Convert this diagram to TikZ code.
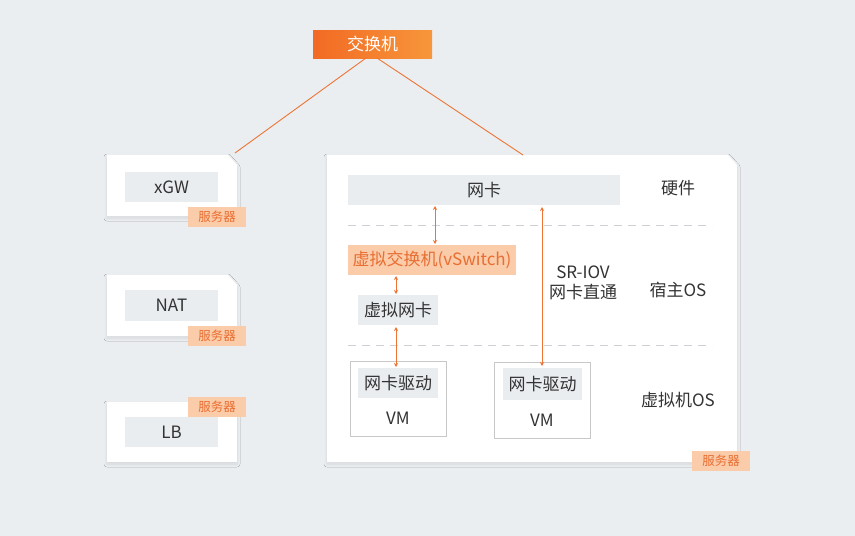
\documentclass[tikz,border=0pt]{standalone}
\usepackage{fontspec}
\setmainfont{Noto Sans CJK SC}
\usetikzlibrary{arrows.meta,shadows.blur}
\definecolor{bgcol}{RGB}{235,238,241}
\definecolor{innercol}{RGB}{234,237,240}
\definecolor{orA}{RGB}{242,106,36}
\definecolor{orB}{RGB}{247,150,58}
\definecolor{tagfill}{RGB}{251,204,170}
\definecolor{tagtext}{RGB}{232,110,50}
\definecolor{lnorange}{RGB}{238,116,54}
\definecolor{txtcol}{RGB}{51,51,51}
\definecolor{vmline}{RGB}{200,200,200}
\definecolor{dashcol}{RGB}{205,208,212}
\tikzset{
  card/.style={fill=white,blur shadow={shadow xshift=0pt,shadow yshift=-2pt,shadow blur radius=3pt,shadow blur steps=6,shadow opacity=10}},
  greybox/.style={fill=innercol,text=txtcol,inner sep=0pt,font=\fontsize{17}{19}\selectfont},
  tag/.style={fill=tagfill,text=tagtext,inner sep=0pt,minimum width=58pt,minimum height=20pt,font=\fontsize{12.5}{14}\selectfont},
  lbl/.style={text=txtcol,inner sep=0pt,font=\fontsize{17}{19}\selectfont,align=center},
  conn/.style={draw=lnorange,line width=0.9pt},
  dbl/.style={draw=lnorange,line width=1pt,{Stealth[length=4pt,width=4pt]}-{Stealth[length=4pt,width=4pt]}},
  sep/.style={draw=dashcol,line width=1pt,dash pattern=on 8pt off 6pt},
}
\begin{document}
\begin{tikzpicture}[x=1pt,y=-1pt]
\fill[bgcol] (0,0) rectangle (855,536);
\useasboundingbox (0,0) rectangle (855,536);

% switch
\node[left color=orA,right color=orB,text=white,inner sep=0pt,minimum width=119pt,minimum height=28pt,font=\fontsize{17}{19}\selectfont] (sw) at (372.5,44) {交换机};

% small server cards
\path[card] (107,155) -- (228,155) -- (237,165) -- (237,216) -- (107,216) -- cycle;
\coordinate (xgwc) at (235,153);
\node[greybox,minimum width=93pt,minimum height=30pt] (xgw) at (171.5,187) {xGW};
\node[tag] (t1) at (217,217) {服务器};

\path[card] (107,275) -- (228,275) -- (237,285) -- (237,336) -- (107,336) -- cycle;
\node[greybox,minimum width=93pt,minimum height=31pt] (nat) at (171.5,305.5) {NAT};
\node[tag] (t2) at (217,336) {服务器};

\path[card] (107,402) rectangle (237,462);
\node[greybox,minimum width=93pt,minimum height=30pt] (lb) at (171.5,432) {LB};
\node[tag] (t3) at (217,407) {服务器};

% big server card
\path[card] (327,155) -- (728,155) -- (737,165) -- (737,462) -- (327,462) -- cycle;
\coordinate (bigc) at (523,155);
\node[tag] (t4) at (721,461) {服务器};

\coordinate (s1) at (366,58);
\coordinate (s2) at (377,58);
\draw[conn] (s1) -- (xgwc);
\draw[conn] (s2) -- (bigc);

\node[greybox,minimum width=272pt,minimum height=30pt] (nic) at (484,190) {网卡};
\node[lbl] (hw) at (678,188) {硬件};
\coordinate (d1a) at (348,225); \coordinate (d1b) at (712,225);
\draw[sep] (d1a) -- (d1b);

\node[fill=tagfill,text=tagtext,inner sep=0pt,minimum width=168pt,minimum height=30pt,font=\fontsize{17}{19}\selectfont] (vs) at (432,260) {虚拟交换机(vSwitch)};
\node[greybox,minimum width=80pt,minimum height=30pt] (vnic) at (398,310) {虚拟网卡};
\node[lbl] (sriov) at (583,283) {SR-IOV\\[1pt]网卡直通};
\node[lbl] (hos) at (678,290) {宿主OS};
\coordinate (d2a) at (348,345); \coordinate (d2b) at (712,345);
\draw[sep] (d2a) -- (d2b);

% VMs
\node[draw=vmline,line width=1pt,minimum width=96pt,minimum height=75pt,inner sep=0pt] (vm1) at (398,398.5) {};
\node[greybox,minimum width=80pt,minimum height=30pt] (drv1) at (398,383) {网卡驱动};
\node[lbl] (vm1l) at (398,418) {VM};
\node[draw=vmline,line width=1pt,minimum width=96pt,minimum height=76pt,inner sep=0pt] (vm2) at (542,400) {};
\node[greybox,minimum width=79pt,minimum height=32pt] (drv2) at (542.5,384) {网卡驱动};
\node[lbl] (vm2l) at (542,420) {VM};
\node[lbl] (vmos) at (678,400) {虚拟机OS};

% arrows
\coordinate (a1t) at (435,206); \coordinate (a1b) at (435,244);
\coordinate (a2t) at (396,276); \coordinate (a2b) at (396,294);
\coordinate (a3t) at (396,327); \coordinate (a3b) at (396,367);
\coordinate (a4t) at (542,207); \coordinate (a4b) at (542,366);
\draw[dbl] (a1t) -- (a1b);
\draw[dbl] (a2t) -- (a2b);
\draw[dbl] (a3t) -- (a3b);
\draw[dbl] (a4t) -- (a4b);
\end{tikzpicture}
\end{document}
